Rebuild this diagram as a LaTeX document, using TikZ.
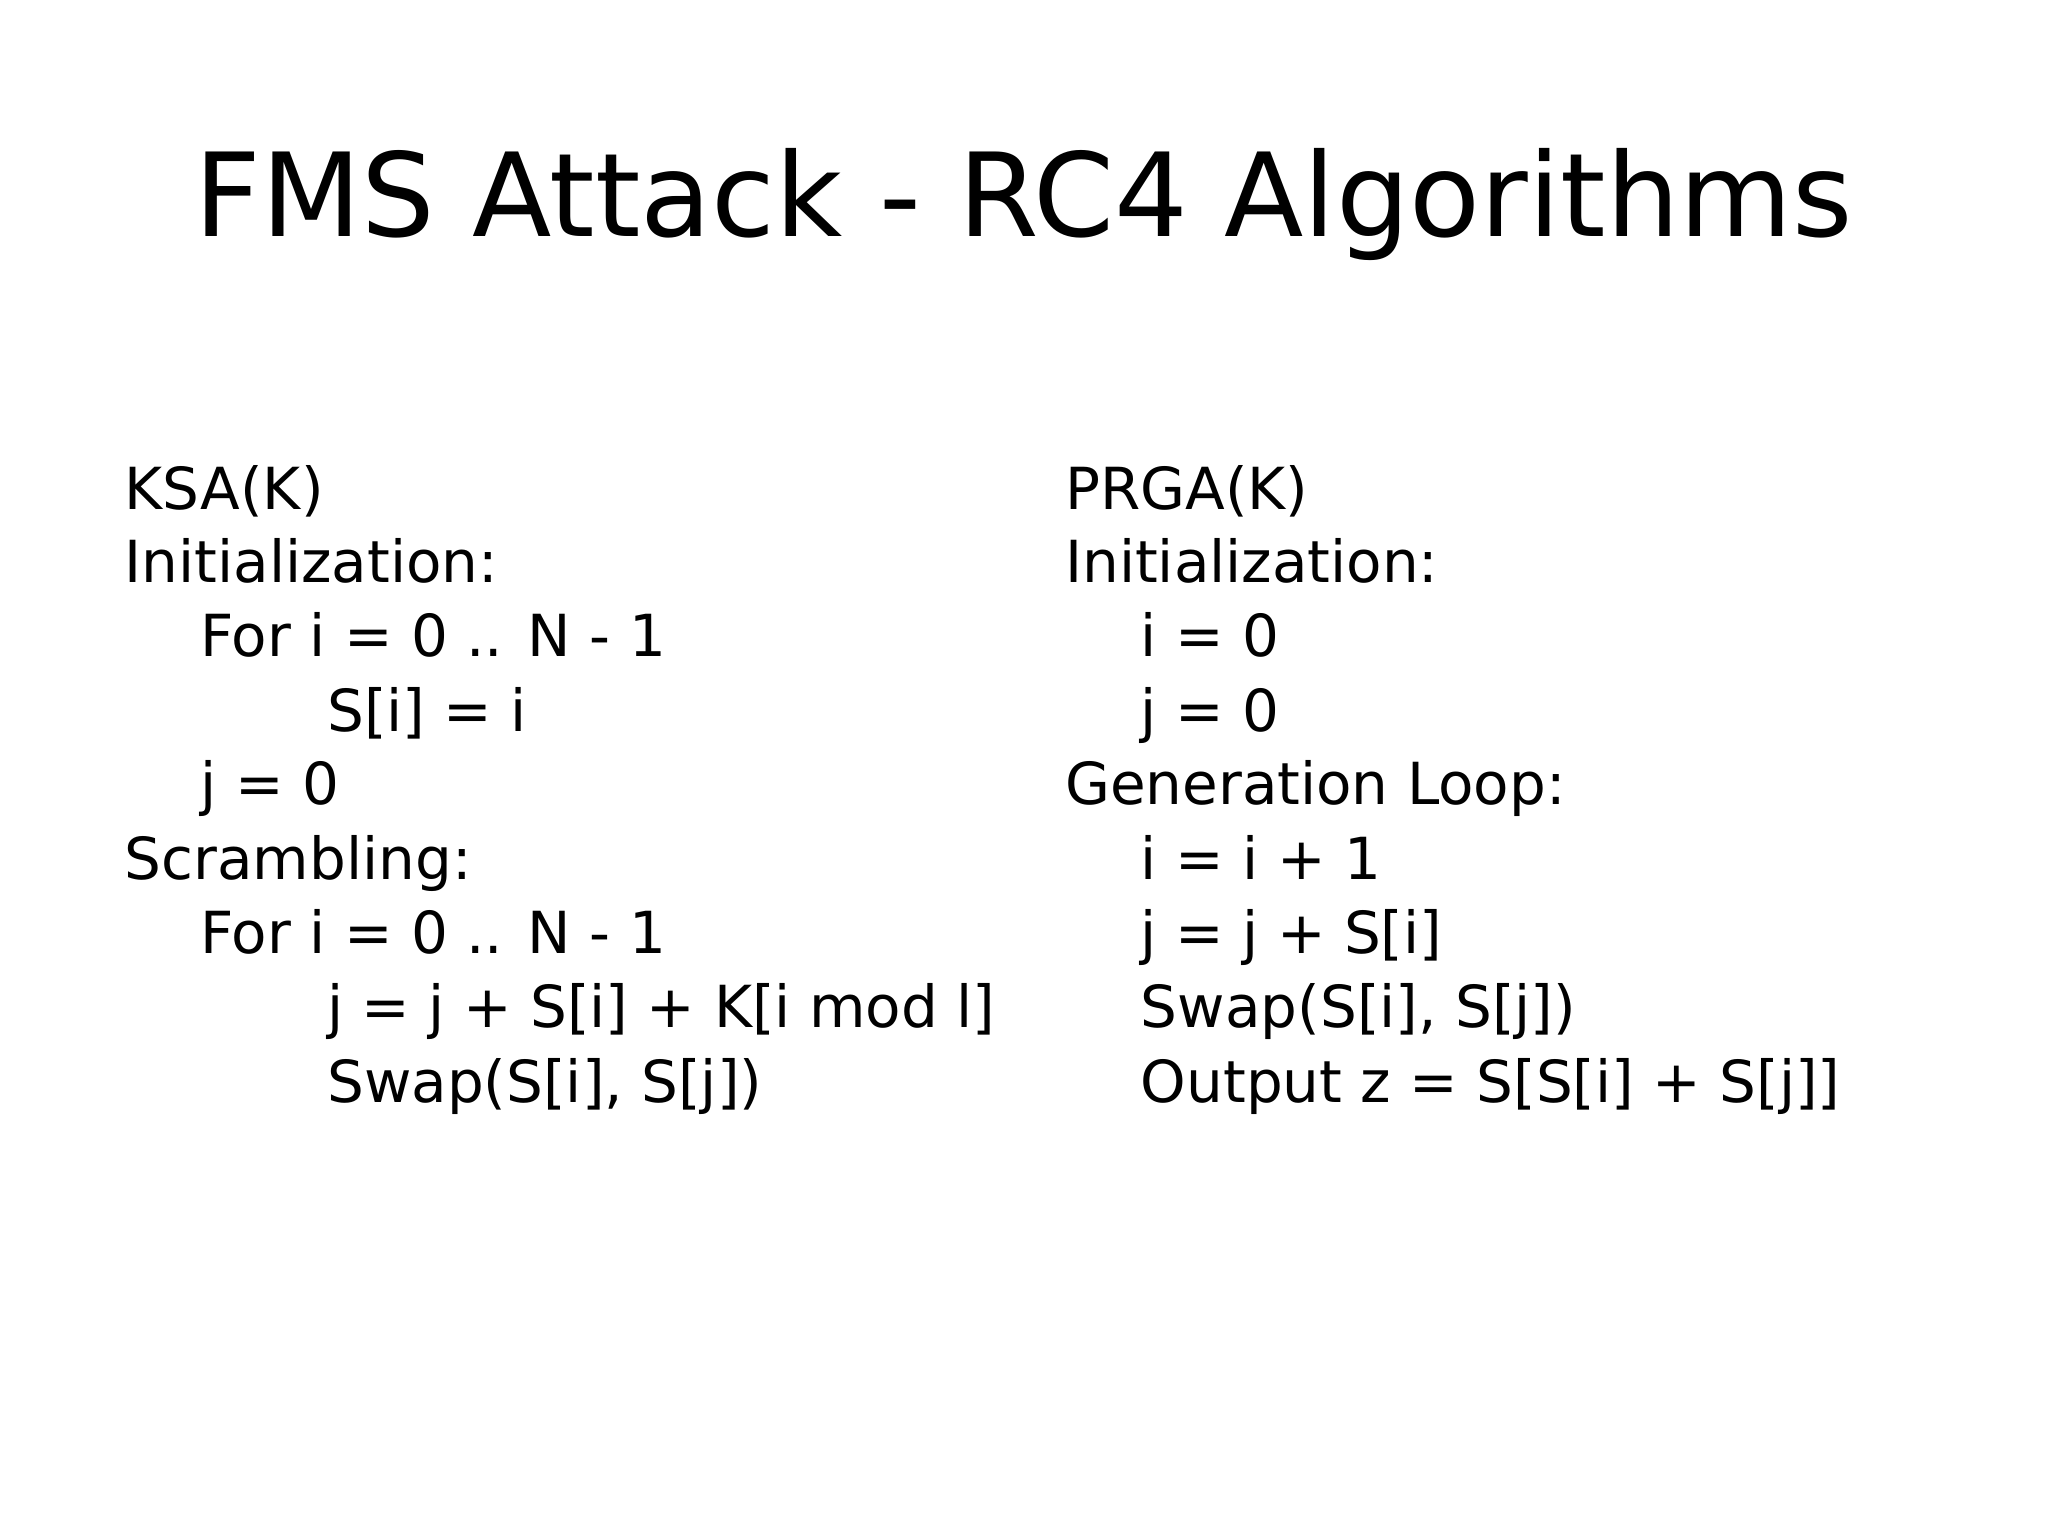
\documentclass[tikz,border=0pt]{standalone}
\usepackage{fontspec}
\setmainfont{DejaVu Sans}
\begin{document}
\begin{tikzpicture}[x=0.01306cm,y=-0.01306cm,
  t/.style={anchor=base west,inner sep=0pt,font=\fontsize{16.5}{20}\selectfont},
  title/.style={anchor=base,inner sep=0pt,font=\fontsize{33}{40}\selectfont}]
\useasboundingbox (0,0) rectangle (1568,1176);
\node[title] (title) at (784,181) {FMS Attack - RC4 Algorithms};
\def\L{95}\def\La{153}\def\Lb{250}\def\R{815}\def\Ra{873}
\node[t] (k1) at (\L,390) {KSA(K)};
\node[t] (k2) at (\L,446) {Initialization:};
\node[t] (k3) at (\La,503) {For i = 0 .. N - 1};
\node[t] (k4) at (\Lb,560) {S[i] = i};
\node[t] (k5) at (\La,616) {j = 0};
\node[t] (k6) at (\L,673) {Scrambling:};
\node[t] (k7) at (\La,730) {For i = 0 .. N - 1};
\node[t] (k8) at (\Lb,787) {j = j + S[i] + K[i mod l]};
\node[t] (k9) at (\Lb,844) {Swap(S[i], S[j])};
\node[t] (p1) at (\R,390) {PRGA(K)};
\node[t] (p2) at (\R,446) {Initialization:};
\node[t] (p3) at (\Ra,503) {i = 0};
\node[t] (p4) at (\Ra,560) {j = 0};
\node[t] (p5) at (\R,616) {Generation Loop:};
\node[t] (p6) at (\Ra,673) {i = i + 1};
\node[t] (p7) at (\Ra,730) {j = j + S[i]};
\node[t] (p8) at (\Ra,787) {Swap(S[i], S[j])};
\node[t] (p9) at (\Ra,844) {Output z = S[S[i] + S[j]]};
\end{tikzpicture}
\end{document}
